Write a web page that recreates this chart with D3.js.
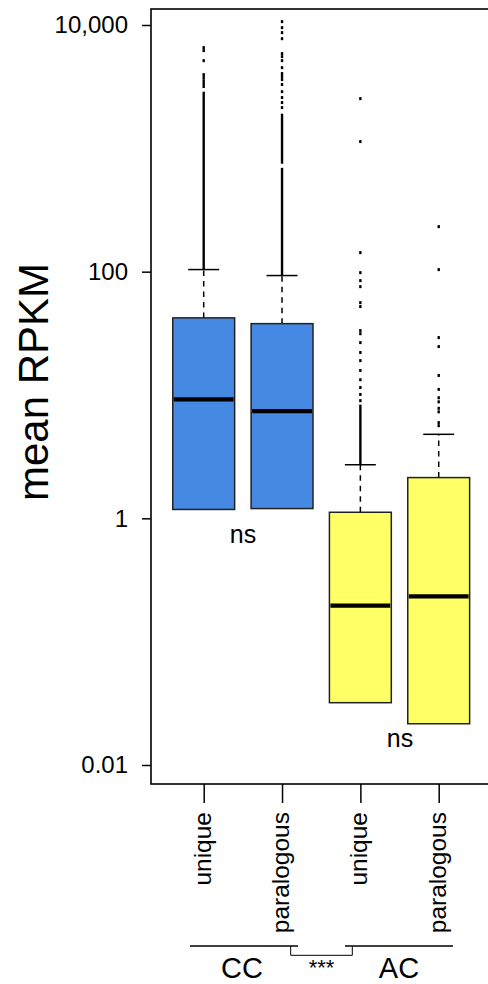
<!DOCTYPE html>
<html>
<head>
<meta charset="utf-8">
<script src="https://cdn.jsdelivr.net/npm/d3@7"></script>
<style>
  body { margin: 0; background: #fff; }
  text { font-family: "Liberation Sans", Arial, Helvetica, sans-serif; fill: #000; }
</style>
</head>
<body>
<script>
// box statistics (mean RPKM, log axis)
const categories = ["unique", "paralogous", "unique", "paralogous"];
const groupNames = ["CC", "AC"];
const q1 = [1.18, 1.2, 0.032, 0.0216];
const medians = [9.2, 7.4, 0.196, 0.233];
const q3 = [42.2, 37.9, 1.12, 2.14];
const upperWhisker = [104, 93, 2.72, 4.8];
const yTicks = [0.01, 1, 100, 10000];

// stretches where outliers run together into a solid line
const outlierRuns = [
    [[104, 2880]],
    [[93, 695], [750, 1910]],
    [[2.72, 8.35]],
    []
];
// single outliers
const outlierPoints = [
    [3170, 3350, 3540, 3750, 3960, 5140, 6200, 6560],
    [2140, 2350, 2580, 2880, 3290, 3610, 3820, 4040, 4510, 5140, 5540, 5860, 7750, 8670, 9520, 10650],
    [9.0, 10.1, 11.5, 13.3, 15.8, 19.0, 22.1, 26.6, 31.4, 33.3, 52.1, 56.1, 75.6, 84.6, 98.2, 142.7, 1134, 2530],
    [5.64, 5.97, 7.3, 7.8, 8.8, 9.5, 11.1, 14.4, 24.7, 29.2, 103.9, 231.8]
];
const pValues = ["ns", "ns"];
const groupTest = "***";

const fills = ["#4589E3", "#4589E3", "#FFFF66", "#FFFF66"];

const width = 488, height = 984;
const svg = d3.select("body").append("svg")
    .attr("width", width)
    .attr("height", height);

const x = d3.scaleLinear()
    .domain([0.34, 4.66])
    .range([152, 490.4]);

const y = d3.scaleLog()
    .domain([0.01, 10000])
    .range([765, 25]);

const boxW = 0.79;

// frame
svg.append("rect")
    .attr("x", 151).attr("y", 9)
    .attr("width", 490 - 151).attr("height", 784 - 9)
    .attr("fill", "none")
    .attr("stroke", "#000")
    .attr("stroke-width", 1.6);

// y axis
const leftAxis = d3.axisLeft(y)
    .tickValues(yTicks)
    .tickSize(9)
    .tickPadding(14)
    .tickFormat(d => d >= 1 ? d3.format(",")(d) : d3.format(".2f")(d));

const gy = svg.append("g")
    .attr("transform", "translate(151,0)")
    .call(leftAxis);
gy.select(".domain").remove();
gy.selectAll(".tick line").attr("stroke-width", 1.5);
gy.selectAll(".tick text")
    .attr("font-size", "24px")
    .attr("font-family", "Liberation Sans, Arial, sans-serif");

svg.append("text")
    .attr("transform", "translate(48,382) rotate(-90)")
    .attr("text-anchor", "middle")
    .attr("font-size", "42px")
    .text("mean RPKM");

// x axis ticks and labels
const idx = categories.map((c, i) => i + 1);
const bottomAxis = d3.axisBottom(x)
    .tickValues(idx)
    .tickSize(19)
    .tickFormat("");
const gx = svg.append("g")
    .attr("transform", "translate(0,784)")
    .call(bottomAxis);
gx.select(".domain").remove();
gx.selectAll(".tick line").attr("stroke-width", 1.5);

svg.selectAll(".xlab")
    .data(categories)
    .enter()
    .append("text")
        .attr("class", "xlab")
        .attr("transform", (d, i) => "translate(" + (x(i + 1) + 7) + ",812) rotate(-90)")
        .attr("text-anchor", "end")
        .attr("font-size", "24.5px")
        .text(d => d);

// whiskers and outliers
const boxes = svg.append("g");
idx.forEach((p, i) => {
    const cx = x(p);
    boxes.append("line")
        .attr("x1", cx).attr("x2", cx)
        .attr("y1", y(q3[i])).attr("y2", y(upperWhisker[i]))
        .attr("stroke", "#000")
        .attr("stroke-width", 1.5)
        .attr("stroke-dasharray", "5.5,5");
    const capHalf = (x(p + boxW / 4) - x(p));
    boxes.append("line")
        .attr("x1", cx - capHalf).attr("x2", cx + capHalf)
        .attr("y1", y(upperWhisker[i])).attr("y2", y(upperWhisker[i]))
        .attr("stroke", "#000")
        .attr("stroke-width", 1.5);

    outlierRuns[i].forEach(r => {
        boxes.append("line")
            .attr("x1", cx).attr("x2", cx)
            .attr("y1", y(r[0])).attr("y2", y(r[1]))
            .attr("stroke", "#000")
            .attr("stroke-width", 2.4);
    });
    boxes.selectAll(null)
        .data(outlierPoints[i])
        .enter()
        .append("rect")
            .attr("x", cx - 1.2)
            .attr("y", d => y(d) - 1.5)
            .attr("width", 2.4)
            .attr("height", 3)
            .attr("fill", "#000");
});

// boxes
idx.forEach((p, i) => {
    const x0 = x(p - boxW / 2), x1 = x(p + boxW / 2);
    boxes.append("rect")
        .attr("x", x0)
        .attr("y", y(q3[i]))
        .attr("width", x1 - x0)
        .attr("height", y(q1[i]) - y(q3[i]))
        .attr("fill", fills[i])
        .attr("stroke", "#222")
        .attr("stroke-width", 1.5);
    boxes.append("line")
        .attr("x1", x0 + 1).attr("x2", x1 - 1)
        .attr("y1", y(medians[i])).attr("y2", y(medians[i]))
        .attr("stroke", "#000")
        .attr("stroke-width", 4.3);
});

// within-group tests
svg.append("text")
    .attr("x", 243).attr("y", 543)
    .attr("text-anchor", "middle")
    .attr("font-size", "25px")
    .text(pValues[0]);
svg.append("text")
    .attr("x", 400).attr("y", 747)
    .attr("text-anchor", "middle")
    .attr("font-size", "25px")
    .text(pValues[1]);

// group labels and bracket
const gl = svg.append("g").attr("stroke", "#000").attr("fill", "none");
gl.append("line").attr("x1", 190).attr("x2", 298).attr("y1", 946).attr("y2", 946).attr("stroke-width", 1.5);
gl.append("line").attr("x1", 345).attr("x2", 453).attr("y1", 946).attr("y2", 946).attr("stroke-width", 1.5);
gl.append("path").attr("d", "M290.7,946V955.3H352.3V946").attr("stroke-width", 1);

svg.append("text")
    .attr("x", 321.5).attr("y", 975)
    .attr("text-anchor", "middle")
    .attr("font-size", "22px")
    .text(groupTest);

svg.selectAll(".glab")
    .data(groupNames)
    .enter()
    .append("text")
        .attr("class", "glab")
        .attr("x", (d, i) => i === 0 ? 242 : 399)
        .attr("y", 978)
        .attr("text-anchor", "middle")
        .attr("font-size", "29px")
        .text(d => d);
</script>
</body>
</html>
